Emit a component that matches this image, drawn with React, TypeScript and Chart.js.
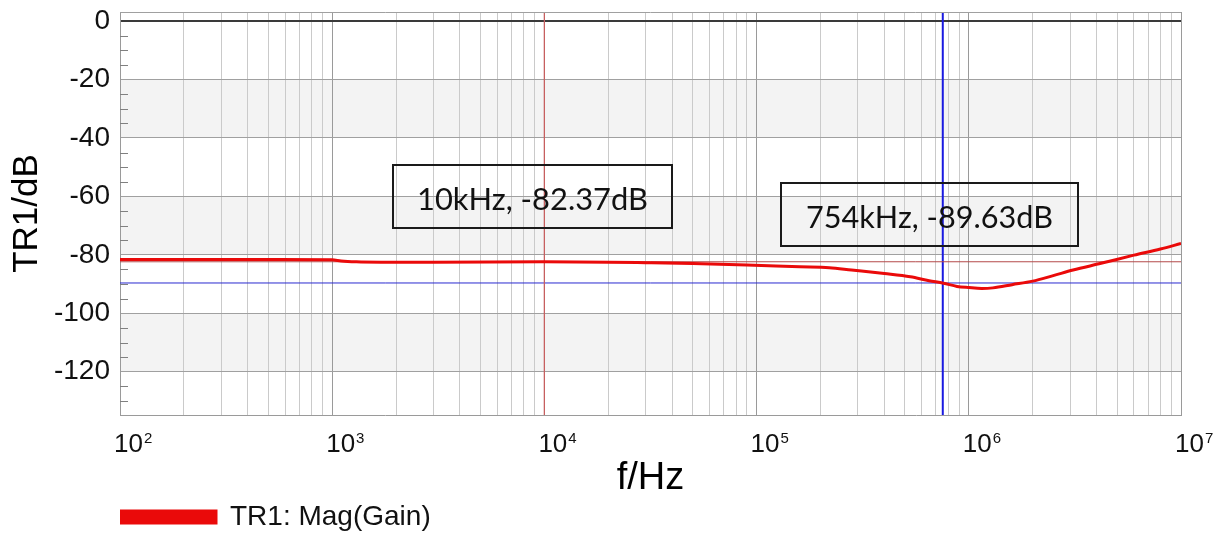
import { useEffect, useRef } from 'react';
import { Chart, registerables } from 'chart.js';

Chart.register(...registerables);

// ---- data ----
const freqHz = [100, 200, 500, 1000, 1100, 1300, 1700, 3000, 10000, 20000, 30000, 50000, 90000, 160000, 220000, 280000, 400000, 530000, 650000, 760000, 880000, 1000000, 1150000, 1300000, 1600000, 2000000, 2500000, 3100000, 4200000, 6000000, 8000000, 10000000];
const gainDb = [-81.6, -81.6, -81.6, -81.7, -82.1, -82.4, -82.5, -82.5, -82.4, -82.5, -82.7, -83.0, -83.5, -84.1, -84.4, -85.2, -86.4, -87.5, -88.85, -89.7, -90.8, -91.2, -91.5, -91.3, -90.2, -89.0, -87.1, -85.2, -82.9, -80.1, -78.0, -76.1];

const seriesLabel = 'TR1: Mag(Gain)';
const markerFreqs = [10000, 754000];
const markerDbs = [-82.37, -89.63];
const markerLabels = ['10kHz, -82.37dB', '754kHz, -89.63dB'];

const yTickValues = [0, -20, -40, -60, -80, -100, -120];
const shadedBands = [[-20, -40], [-60, -80], [-100, -120]];
const xDecadeExponents = [2, 3, 4, 5, 6, 7];
const xMin = 100;
const xMax = 10000000;
const yMin = -134.8;
const yMax = 3.1;

const FONT = "'Liberation Sans', Arial, sans-serif";

// annotation box layout (pixel offsets from chart area top-left)
const annotationLayout = [
  { left: 273, top: 153, width: 279, height: 63, textWidth: 231, baseline: 45 },
  { left: 661, top: 171, width: 297, height: 63, textWidth: 247, baseline: 44.5 },
];

function buildXTicks() {
  const ticks: { value: number; major: boolean }[] = [];
  for (const e of xDecadeExponents) {
    if (e === xDecadeExponents[xDecadeExponents.length - 1]) {
      ticks.push({ value: Math.pow(10, e), major: true });
      break;
    }
    for (let m = 1; m <= 9; m++) {
      ticks.push({ value: m * Math.pow(10, e), major: m === 1 });
    }
  }
  return ticks;
}

const decorPlugin = {
  id: 'decor',
  beforeDraw(chart: any) {
    const { ctx, chartArea: a, scales } = chart;
    const y = scales.y;
    ctx.save();
    ctx.fillStyle = '#f3f3f3';
    for (const [t, b] of shadedBands) {
      const y1 = y.getPixelForValue(t);
      const y2 = y.getPixelForValue(b);
      ctx.fillRect(a.left, y1, a.right - a.left, y2 - y1);
    }
    ctx.restore();
  },
  afterDraw(chart: any) {
    const { ctx, chartArea: a, scales } = chart;
    const x = scales.x;
    const y = scales.y;
    ctx.save();
    // top border
    ctx.strokeStyle = '#a0a0a0';
    ctx.lineWidth = 1;
    ctx.beginPath();
    ctx.moveTo(a.left, a.top + 0.5);
    ctx.lineTo(a.right, a.top + 0.5);
    ctx.stroke();
    // minor y ticks every 5 dB inside the plot
    ctx.strokeStyle = '#808080';
    ctx.beginPath();
    for (let v = 0; v >= yMin; v -= 5) {
      if (v % 20 === 0) continue;
      const py = Math.round(y.getPixelForValue(v)) + 0.5;
      ctx.moveTo(a.left, py);
      ctx.lineTo(a.left + 8, py);
    }
    ctx.stroke();
    // x tick labels 10^n
    ctx.fillStyle = '#111';
    ctx.textAlign = 'left';
    ctx.textBaseline = 'alphabetic';
    for (const e of xDecadeExponents) {
      const px = x.getPixelForValue(Math.pow(10, e));
      const base = a.bottom + 37;
      ctx.font = `26px ${FONT}`;
      ctx.fillText('10', px - 6, base);
      const w = ctx.measureText('10').width;
      ctx.font = `15px ${FONT}`;
      ctx.fillText(String(e), px - 6 + w + 1, base - 9);
    }
    // annotation boxes
    annotationLayout.forEach((b, i) => {
      const left = a.left + b.left;
      const top = a.top + b.top;
      ctx.strokeStyle = '#1a1a1a';
      ctx.lineWidth = 2;
      ctx.strokeRect(left, top, b.width, b.height);
      ctx.font = `31px Lato, 'Open Sans', sans-serif`;
      const mw = ctx.measureText(markerLabels[i]).width;
      ctx.save();
      ctx.translate(left + b.width / 2, top + b.baseline);
      ctx.scale(b.textWidth / mw, 1);
      ctx.textAlign = 'center';
      ctx.fillStyle = '#111';
      ctx.fillText(markerLabels[i], 0, 0);
      ctx.restore();
    });
    ctx.restore();
  },
};

export default function App() {
  const ref = useRef<HTMLCanvasElement | null>(null);
  useEffect(() => {
    if (!ref.current) return;
    const curve = freqHz.map((f, i) => ({ x: f, y: gainDb[i] }));
    const chart = new Chart(ref.current, {
      type: 'line',
      data: {
        datasets: [
          {
            label: seriesLabel,
            data: curve,
            borderColor: '#ea0a0a',
            backgroundColor: '#ea0a0a',
            borderWidth: 3,
            pointRadius: 0,
            cubicInterpolationMode: 'monotone',
            order: 0,
          },
          {
            label: 'marker1-v',
            data: [{ x: markerFreqs[0], y: yMax }, { x: markerFreqs[0], y: yMin }],
            borderColor: '#c86060',
            borderWidth: 1,
            pointRadius: 0,
            order: 1,
          },
          {
            label: 'marker1-h',
            data: [{ x: xMin, y: markerDbs[0] }, { x: xMax, y: markerDbs[0] }],
            borderColor: '#b44a4a',
            borderWidth: 1,
            pointRadius: 0,
            order: 1,
          },
          {
            label: 'marker2-v',
            data: [{ x: markerFreqs[1], y: yMax }, { x: markerFreqs[1], y: yMin }],
            borderColor: '#1a1ae0',
            borderWidth: 2,
            pointRadius: 0,
            order: 1,
          },
          {
            label: 'marker2-h',
            data: [{ x: xMin, y: markerDbs[1] }, { x: xMax, y: markerDbs[1] }],
            borderColor: '#2a2ad0',
            borderWidth: 1,
            pointRadius: 0,
            order: 1,
          },
        ],
      },
      options: {
        animation: false,
        responsive: true,
        maintainAspectRatio: false,
        layout: { padding: { top: 12, right: 48, left: 0, bottom: -3 } },
        plugins: {
          tooltip: { enabled: false },
          legend: {
            position: 'bottom',
            align: 'start',
            fullSize: false,
            labels: {
              filter: (item: any) => item.datasetIndex === 0,
              boxWidth: 96,
              boxHeight: 12,
              padding: 0,
              color: '#111',
              font: { family: FONT, size: 28 },
            },
          },
        },
        scales: {
          x: {
            type: 'logarithmic',
            min: xMin,
            max: xMax,
            afterBuildTicks: (scale: any) => {
              scale.ticks = buildXTicks();
            },
            afterFit: (scale: any) => {
              scale.height = 88;
              scale.paddingLeft = 0;
              scale.paddingRight = 0;
            },
            ticks: { display: false },
            grid: {
              drawTicks: false,
              color: (c: any) => (c.tick && c.tick.major ? '#9a9a9a' : '#cacaca'),
              lineWidth: 1,
            },
            border: { display: true, color: '#9a9a9a', width: 1 },
            title: {
              display: true,
              text: 'f/Hz',
              color: '#000',
              font: { family: FONT, size: 38 },
              padding: { top: 0, bottom: 2 },
            },
          },
          y: {
            type: 'linear',
            min: yMin,
            max: yMax,
            afterBuildTicks: (scale: any) => {
              scale.ticks = yTickValues.map((v) => ({ value: v }));
            },
            afterFit: (scale: any) => {
              scale.width = 120;
              scale.paddingTop = 0;
              scale.paddingBottom = 0;
            },
            ticks: {
              padding: 10,
              color: '#111',
              font: { family: FONT, size: 28 },
              callback: (v: any) => String(v),
            },
            grid: {
              drawTicks: false,
              color: (c: any) => (c.tick && c.tick.value === 0 ? '#3a3a3a' : '#a0a0a0'),
              lineWidth: (c: any) => (c.tick && c.tick.value === 0 ? 2 : 1),
            },
            border: { display: true, color: '#9a9a9a', width: 1 },
            title: {
              display: true,
              text: 'TR1/dB',
              color: '#000',
              font: { family: FONT, size: 35 },
              padding: { top: 6, bottom: 0 },
            },
          },
        },
      },
      plugins: [decorPlugin],
    } as any);
    return () => chart.destroy();
  }, []);
  return (
    <div style={{ position: 'absolute', left: 0, top: 0, width: 1229, height: 538 }}>
      <canvas ref={ref} />
    </div>
  );
}
